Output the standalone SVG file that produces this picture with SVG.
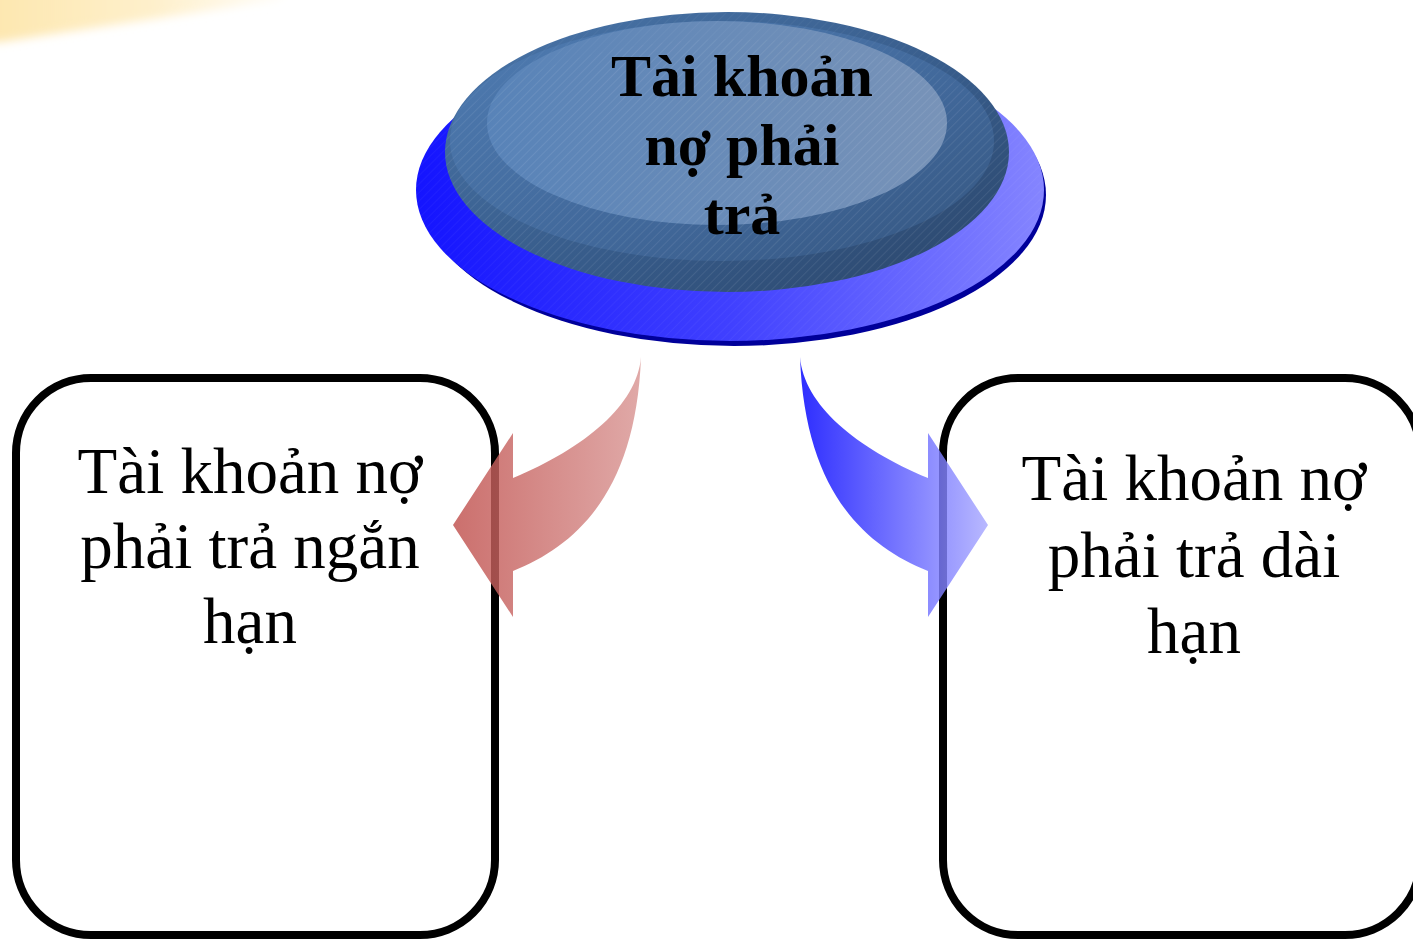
<svg xmlns="http://www.w3.org/2000/svg" width="1413" height="940" viewBox="0 0 1413 940">
  <defs>
    <style>
      .box { fill: #ffffff; stroke: #000000; stroke-width: 8; }
      .label { font-family: "Liberation Serif", "Times New Roman", serif; font-size: 65px; fill: #000000; text-anchor: middle; }
      .title { font-family: "Liberation Serif", "Times New Roman", serif; font-size: 60px; font-weight: bold; fill: #000000; text-anchor: middle; }
    </style>
    <filter id="soft" x="-20%" y="-50%" width="140%" height="200%">
      <feGaussianBlur stdDeviation="5"/>
    </filter>
    <linearGradient id="glow" x1="0" y1="0" x2="1" y2="0">
      <stop offset="0" stop-color="#fde6ad"/>
      <stop offset="0.55" stop-color="#fef0cc"/>
      <stop offset="1" stop-color="#ffffff"/>
    </linearGradient>
    <linearGradient id="baseBlue" x1="0" y1="0" x2="1" y2="0">
      <stop offset="0" stop-color="#1414ff"/>
      <stop offset="0.5" stop-color="#4040ff"/>
      <stop offset="1" stop-color="#8585ff"/>
    </linearGradient>
    <linearGradient id="rimOuter" x1="0" y1="0" x2="1" y2="1">
      <stop offset="0" stop-color="#4a76aa"/>
      <stop offset="0.6" stop-color="#365a88"/>
      <stop offset="1" stop-color="#2a4468"/>
    </linearGradient>
    <linearGradient id="rimMid" x1="0" y1="0" x2="1" y2="1">
      <stop offset="0" stop-color="#4f7cb2"/>
      <stop offset="0.6" stop-color="#41689a"/>
      <stop offset="1" stop-color="#34557f"/>
    </linearGradient>
    <linearGradient id="face" x1="0" y1="0" x2="1" y2="0">
      <stop offset="0" stop-color="#5883b8"/>
      <stop offset="1" stop-color="#7893b8"/>
    </linearGradient>
    <pattern id="hatch" width="6" height="6" patternUnits="userSpaceOnUse" patternTransform="rotate(45)">
      <line x1="0" y1="0" x2="0" y2="6" stroke="#ffffff" stroke-width="1" stroke-opacity="0.08"/>
    </pattern>
    <linearGradient id="redArrow" x1="453" y1="0" x2="641" y2="0" gradientUnits="userSpaceOnUse">
      <stop offset="0" stop-color="#c0504d"/>
      <stop offset="1" stop-color="#d99694"/>
    </linearGradient>
    <linearGradient id="blueArrow" x1="800" y1="0" x2="988" y2="0" gradientUnits="userSpaceOnUse">
      <stop offset="0" stop-color="#0000ff"/>
      <stop offset="1" stop-color="#a9a9ff"/>
    </linearGradient>
  </defs>

  <rect width="1413" height="940" fill="#ffffff"/>

  <!-- warm light streak in the top-left corner -->
  <polygon points="-20,-20 300,-20 280,0 0,42 -20,42" fill="url(#glow)" filter="url(#soft)"/>

  <!-- short-term payables box -->
  <g id="short-term">
    <rect class="box" x="16" y="378" width="479" height="557" rx="75" ry="75"/>
    <text class="label" x="250" y="493">Tài khoản nợ</text>
    <text class="label" x="250" y="568">phải trả ngắn</text>
    <text class="label" x="250" y="643">hạn</text>
  </g>

  <!-- long-term payables box -->
  <g id="long-term">
    <rect class="box" x="943" y="378" width="477" height="557" rx="75" ry="75"/>
    <text class="label" x="1194" y="500">Tài khoản nợ</text>
    <text class="label" x="1194" y="577">phải trả dài</text>
    <text class="label" x="1194" y="653">hạn</text>
  </g>

  <!-- central disc -->
  <g id="payables">
    <ellipse cx="734" cy="195" rx="312" ry="151" fill="#00009a"/>
    <ellipse cx="730" cy="190" rx="314" ry="151" fill="url(#baseBlue)"/>
    <ellipse cx="727" cy="152" rx="282" ry="140" fill="url(#rimOuter)"/>
    <ellipse cx="722" cy="141" rx="272" ry="120" fill="url(#rimMid)"/>
    <ellipse cx="717" cy="123" rx="230" ry="102" fill="url(#face)"/>
    <ellipse cx="730" cy="190" rx="314" ry="151" fill="url(#hatch)"/>
    <ellipse cx="727" cy="152" rx="282" ry="140" fill="url(#hatch)"/>
    <text class="title" x="742" y="96">Tài khoản</text>
    <text class="title" x="742" y="165">nợ phải</text>
    <text class="title" x="742" y="234">trả</text>
  </g>

  <!-- curved arrows from the disc to each box -->
  <g id="connectors" fill-opacity="0.82">
    <path d="M641,357 C637,405 585,448 513,478 L513,433 L453,525 L513,617 L513,571 C578,545 636,490 641,357 Z" fill="url(#redArrow)"/>
    <path d="M800,357 C804,405 856,448 928,478 L928,433 L988,525 L928,617 L928,571 C863,545 805,490 800,357 Z" fill="url(#blueArrow)"/>
  </g>
</svg>
